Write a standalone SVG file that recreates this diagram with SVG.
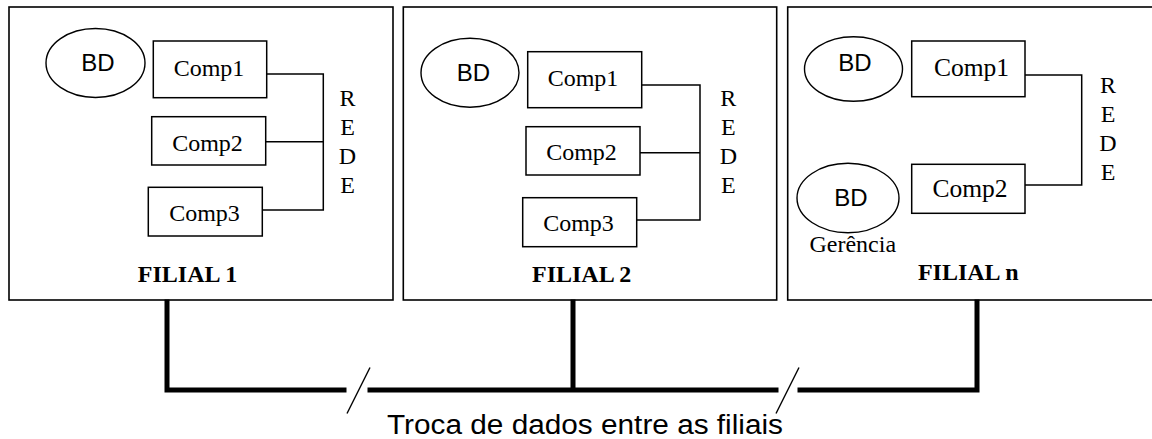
<svg xmlns="http://www.w3.org/2000/svg" width="1152" height="439" viewBox="0 0 1152 439">
<style>
.frame{fill:#fff;stroke:#000;stroke-width:1.6}
.box{fill:#fff;stroke:#000;stroke-width:1.5}
.db{fill:#fff;stroke:#000;stroke-width:1.4}
.bus{fill:none;stroke:#000;stroke-width:1.5}
.trunk{fill:none;stroke:#000;stroke-width:5;stroke-linejoin:miter;stroke-linecap:square}
.slash{fill:none;stroke:#000;stroke-width:1.4}
.sans{font-family:"Liberation Sans",Arial,sans-serif;font-size:24px;text-anchor:middle}
.serif{font-family:"Liberation Serif","Times New Roman",serif;font-size:24px;text-anchor:middle}
.title{font-family:"Liberation Serif","Times New Roman",serif;font-size:24px;font-weight:bold;text-anchor:middle}
</style>
<rect width="1152" height="439" fill="#fff"/>
<g id="filial1">
<rect class="frame" x="9" y="7" width="384" height="293"/>
<g id="f1-bd"><ellipse class="db" cx="95.5" cy="63" rx="49.5" ry="34.5"/><text class="sans" x="98" y="70.5">BD</text></g>
<g id="f1-comp1"><rect class="box" x="153.3" y="41" width="113.4" height="56.7"/><text class="serif" x="209" y="76">Comp1</text></g>
<g id="f1-comp2"><rect class="box" x="151.7" y="116.7" width="114" height="48.3"/><text class="serif" x="207.5" y="150.5">Comp2</text></g>
<g id="f1-comp3"><rect class="box" x="148.3" y="187.3" width="114" height="48.7"/><text class="serif" x="204.5" y="220.5">Comp3</text></g>
<g id="f1-rede" class="serif"><text x="347.5" y="106">R</text><text x="347.5" y="135">E</text><text x="347.5" y="164">D</text><text x="347.5" y="193">E</text></g>
<text class="title" x="187.5" y="282">FILIAL 1</text>
</g>
<g id="filial2">
<rect class="frame" x="403.3" y="7" width="373.4" height="293"/>
<g id="f2-bd"><ellipse class="db" cx="470" cy="72.8" rx="49" ry="34.5"/><text class="sans" x="473.3" y="80.5">BD</text></g>
<g id="f2-comp1"><rect class="box" x="527.7" y="51.7" width="114" height="56"/><text class="serif" x="583" y="86">Comp1</text></g>
<g id="f2-comp2"><rect class="box" x="526" y="126.7" width="114" height="48.3"/><text class="serif" x="581.5" y="160">Comp2</text></g>
<g id="f2-comp3"><rect class="box" x="522.7" y="197.7" width="114" height="49"/><text class="serif" x="578.5" y="230.5">Comp3</text></g>
<g id="f2-rede" class="serif"><text x="728.3" y="106">R</text><text x="728.3" y="135">E</text><text x="728.3" y="164">D</text><text x="728.3" y="193">E</text></g>
<text class="title" x="581.7" y="282">FILIAL 2</text>
</g>
<g id="filialn">
<rect class="frame" x="787.7" y="7" width="380" height="293"/>
<g id="fn-bd"><ellipse class="db" cx="853.5" cy="69" rx="49" ry="32.3"/><text class="sans" x="855" y="71">BD</text></g>
<g id="fn-bd-gerencia"><ellipse class="db" cx="848" cy="198" rx="51" ry="34.7"/><text class="sans" x="851" y="205.5">BD</text><text class="serif" x="852.8" y="252">Gerência</text></g>
<g id="fn-comp1"><rect class="box" x="911.7" y="41" width="113.3" height="55.7"/><text class="serif" x="971.5" y="75.5" style="font-size:25.5px">Comp1</text></g>
<g id="fn-comp2"><rect class="box" x="911.7" y="164.3" width="113.3" height="49"/><text class="serif" x="970" y="197" style="font-size:25.5px">Comp2</text></g>
<g id="fn-rede" class="serif"><text x="1108" y="93">R</text><text x="1108" y="122">E</text><text x="1108" y="151">D</text><text x="1108" y="180">E</text></g>
<text class="title" x="968.3" y="280">FILIAL n</text>
</g>
<g id="connectors">
<path class="bus" d="M266.7 74H323.3V210H262.3M265.7 141.7H323.3"/>
<path class="bus" d="M641.7 85H700V220H636.7M640 152.7H700"/>
<path class="bus" d="M1025 75H1081.7V185H1025"/>
<path class="trunk" d="M167 302V390H344"/>
<path class="trunk" d="M370 390H776M573 302V390"/>
<path class="trunk" d="M800 390H977V302"/>
<line class="slash" x1="347" y1="413.5" x2="370" y2="367.5"/>
<line class="slash" x1="776" y1="413.5" x2="799" y2="367.5"/>
</g>
<text id="trunk-label" x="387" y="434" textLength="396" lengthAdjust="spacingAndGlyphs" style="font-family:'Liberation Sans',Arial,sans-serif;font-size:27px">Troca de dados entre as filiais</text>
</svg>
